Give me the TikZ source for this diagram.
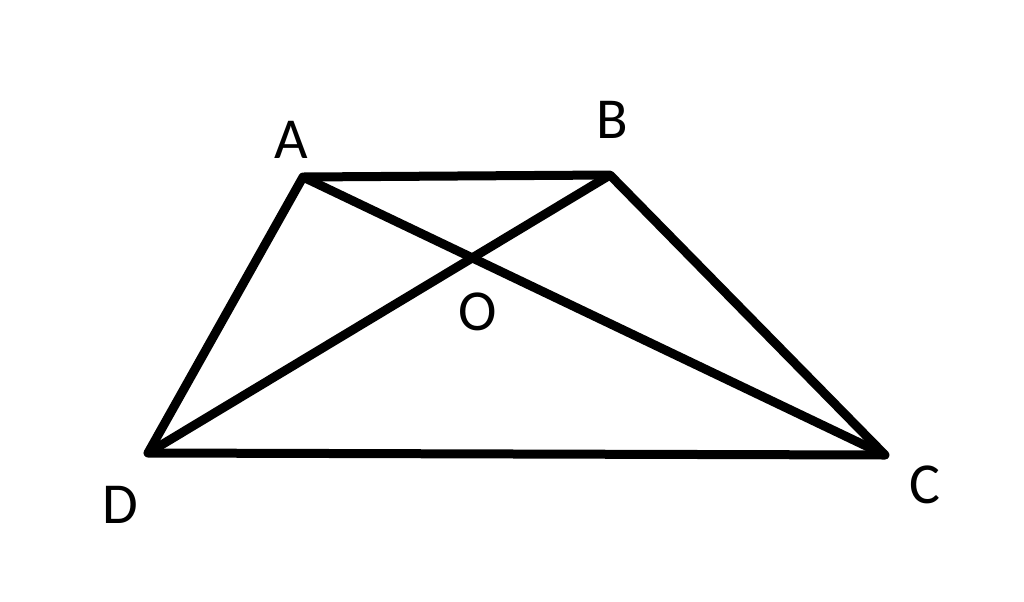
\documentclass[tikz,border=0pt]{standalone}
\usepackage{fontspec}
\setmainfont{Carlito}
\usepackage{tikz}

\begin{document}
\begin{tikzpicture}[x=0.5pt, y=-0.5pt]
        \useasboundingbox (0, 0) rectangle (1024, 601);
        \tikzset{side/.style = {line width = 4.5pt, line join = round},
                 letter/.style = {font = \fontsize{29}{34}\selectfont, inner sep = 0pt}}
        \coordinate (A) at (303, 177);
        \coordinate (B) at (610, 175);
        \coordinate (C) at (885, 455);
        \coordinate (D) at (148, 453);
        \coordinate (O) at (intersection of A--C and B--D);
        \node (lA) at (291, 140) [letter] {A};
        \node (lB) at (612, 120) [letter] {B};
        \node (lC) at (925, 485) [letter] {C};
        \node (lD) at (120, 505) [letter] {D};
        \node (lO) at (478, 312) [letter] {O};
        \draw [side] (A) -- (B) -- (C) -- (D) -- cycle;
        \draw [side] (A) -- (C);
        \draw [side] (B) -- (D);
    \end{tikzpicture}
\end{document}
